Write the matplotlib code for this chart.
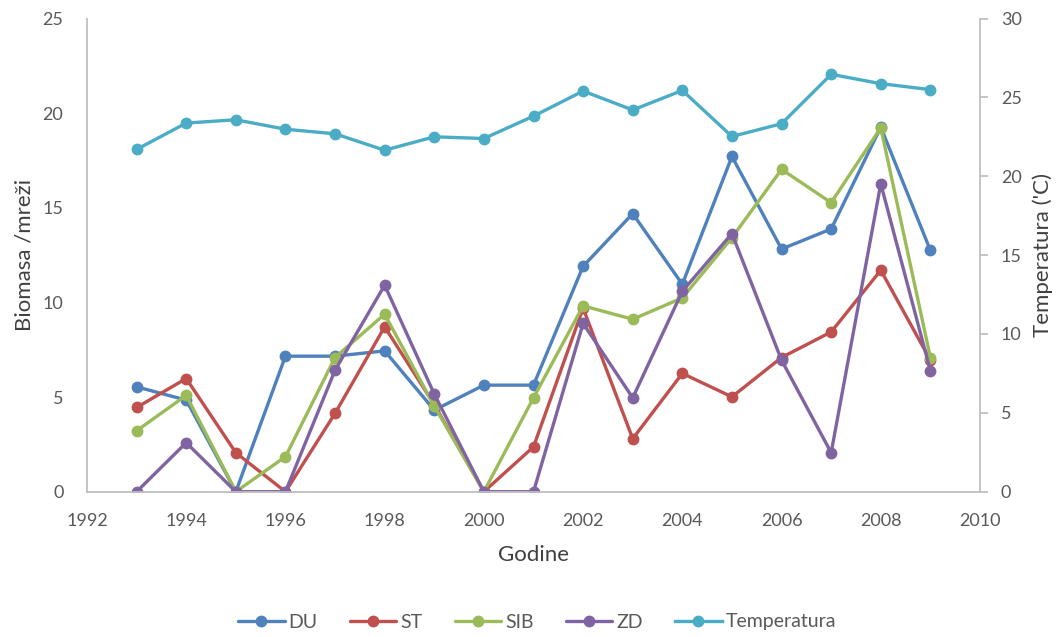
import matplotlib
matplotlib.use("Agg")
import matplotlib.pyplot as plt

plt.rcParams['font.family'] = ['Lato', 'DejaVu Sans']

years = list(range(1993, 2010))
DU = [5.54, 4.84, 0, 7.16, 7.16, 7.44, 4.31, 5.63, 5.63, 11.91, 14.69, 10.96, 17.71, 12.82, 13.88, 19.26, 12.75]
ST = [4.45, 5.98, 2.06, 0, 4.14, 8.71, 4.6, 0, 2.37, 9.7, 2.8, 6.25, 5.01, 7.09, 8.44, 11.7, 6.95]
SIB = [3.22, 5.09, 0, 1.85, 7.09, 9.38, 4.52, 0, 4.96, 9.82, 9.11, 10.24, 13.42, 17.03, 15.27, 19.23, 7.09]
ZD = [0, 2.59, 0, 0, 6.42, 10.91, 5.16, 0, 0, 8.89, 4.96, 10.59, 13.64, 6.95, 2.06, 16.27, 6.39]
TEMP = [21.7, 23.37, 23.58, 22.98, 22.69, 21.65, 22.5, 22.39, 23.81, 25.4, 24.2, 25.44, 22.52, 23.33, 26.46, 25.87, 25.49]

series = [("DU", DU, "#4F81BD"), ("ST", ST, "#C0504D"), ("SIB", SIB, "#9BBB59"), ("ZD", ZD, "#8064A2")]
temp_color = "#4BACC6"
gray = "#BFBFBF"
txt = "#595959"

fig = plt.figure(figsize=(10.64, 6.37), dpi=100)
ax = fig.add_axes([87/1064, 1-491.7/637, (980-87)/1064, (491.7-18.5)/637])
ax2 = ax.twinx()

handles = []
for name, vals, c in series:
    h, = ax.plot(years, vals, color=c, lw=2.4, marker='o', ms=7.5, label=name, solid_capstyle='round')
    handles.append(h)
ht, = ax2.plot(years, TEMP, color=temp_color, lw=2.4, marker='o', ms=7.5, label="Temperatura")
handles.append(ht)

ax.set_xlim(1992, 2010)
ax.set_ylim(0, 25)
ax2.set_ylim(0, 30)
ax.set_xticks(range(1992, 2011, 2))
ax.set_yticks(range(0, 26, 5))
ax2.set_yticks(range(0, 31, 5))

for a in (ax, ax2):
    for s in a.spines.values():
        s.set_visible(False)
for a, side in ((ax, 'left'), (ax, 'bottom'), (ax2, 'right')):
    a.spines[side].set_visible(True)
    a.spines[side].set_color(gray)
    a.spines[side].set_linewidth(1.3)

ax.tick_params(axis='y', length=0, labelsize=13, labelcolor=txt, pad=17)
ax.tick_params(axis='x', length=0, labelsize=13, labelcolor=txt, pad=15)
ax2.tick_params(axis='y', length=6, color=gray, width=1.3, labelsize=13, labelcolor=txt, pad=9)

ax.set_xlabel("Godine", fontsize=16, color="#404040", labelpad=12)
ax.set_ylabel("Biomasa /mreži", fontsize=16, color="#404040", labelpad=6)
ax2.set_ylabel("Temperatura ('C)", fontsize=16, color="#404040", labelpad=8)

fig.legend(handles=handles, labels=[h.get_label() for h in handles], loc='center',
           bbox_to_anchor=(537/1064, 1-622/637), ncol=5, frameon=False,
           fontsize=14, labelcolor=txt, handlelength=2.4, columnspacing=1.65, handletextpad=0.2)

fig.savefig("out.png", dpi=100)
